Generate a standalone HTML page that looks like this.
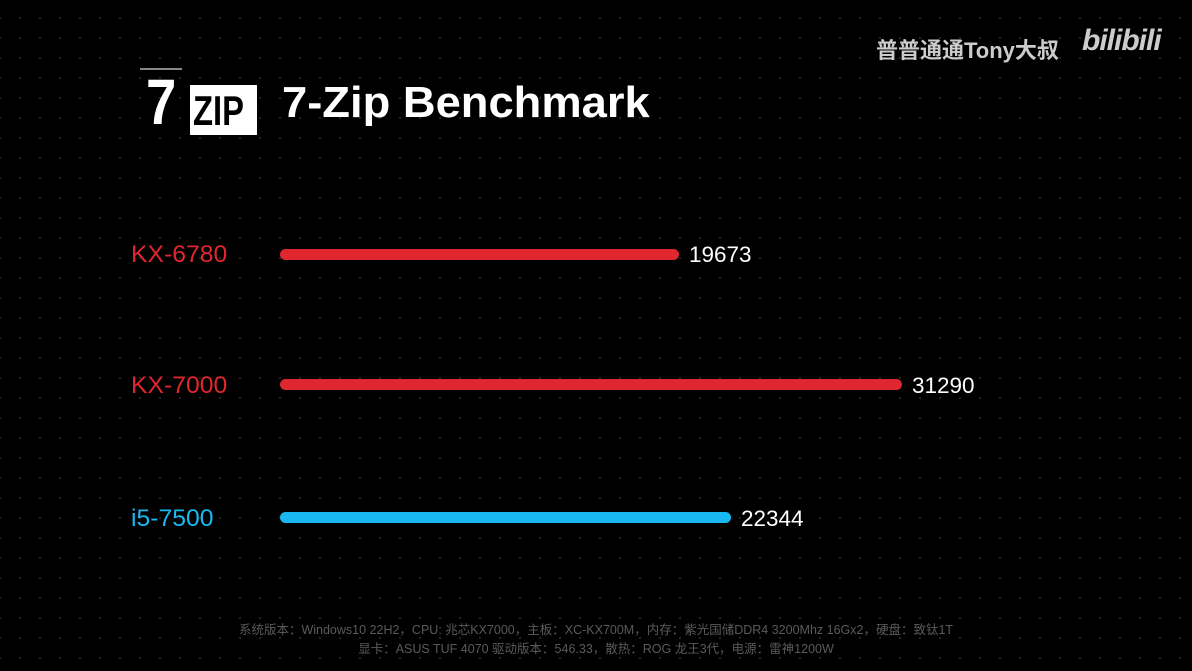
<!DOCTYPE html>
<html><head><meta charset="utf-8"><style>
body{margin:0;width:1192px;height:671px;overflow:hidden;background:#000;
background-image:radial-gradient(circle,#2a2a2a 0.8px,transparent 1.2px);background-size:20px 20px;background-position:10px 8px;
font-family:"Liberation Sans","Noto Sans CJK SC",sans-serif;position:relative;color:#fff}
.a{position:absolute;white-space:nowrap}
.bar{position:absolute;height:11px;border-radius:6px;left:280px}
.lab{font-size:24px;transform:scaleX(1.03);transform-origin:left}
.val{font-size:22.5px;color:#fff}
</style></head><body>
<div class="a" style="left:876px;top:33px;font-size:22px;font-weight:bold;color:#ccc">普普通通Tony大叔</div>
<div class="a" style="left:1082px;top:24px;font-size:30px;font-weight:bold;color:#ccc;font-style:italic;letter-spacing:-1px">bilibili</div>
<div class="a" style="left:140px;top:68px;width:42px;height:2px;background:#888"></div>
<div class="a" style="left:146px;top:70px;font-size:64px;font-weight:bold;line-height:64px;transform:scaleX(0.85);transform-origin:left">7</div>
<div class="a" style="left:190px;top:85px;width:67px;height:50px;background:#fff"></div>
<div class="a" style="left:193px;top:88px;font-size:42px;font-weight:bold;color:#000;line-height:46px;transform:scaleX(0.78);transform-origin:left">ZIP</div>
<div class="a" style="left:282px;top:78px;font-size:44px;font-weight:bold;transform:scaleX(1.03);transform-origin:left">7-Zip Benchmark</div>

<div class="a lab" style="left:131px;top:241px;color:#e0262e">KX-6780</div>
<div class="bar" style="top:249px;width:399px;background:#e0262e"></div>
<div class="a val" style="left:689px;top:242px">19673</div>

<div class="a lab" style="left:131px;top:372px;color:#e0262e">KX-7000</div>
<div class="bar" style="top:379px;width:622px;background:#e0262e"></div>
<div class="a val" style="left:912px;top:373px">31290</div>

<div class="a lab" style="left:131px;top:505px;color:#1ab8f0">i5-7500</div>
<div class="bar" style="top:512px;width:451px;background:#1ab8f0"></div>
<div class="a val" style="left:741px;top:506px">22344</div>

<div class="a" style="left:0;width:1192px;text-align:center;top:621px;font-size:12.5px;color:#5a5a5a;line-height:19px">系统版本：Windows10 22H2，CPU: 兆芯KX7000，主板：XC-KX700M，内存：紫光国储DDR4 3200Mhz 16Gx2，硬盘：致钛1T<br>显卡：ASUS TUF 4070 驱动版本：546.33，散热：ROG 龙王3代，电源：雷神1200W</div>
</body></html>
